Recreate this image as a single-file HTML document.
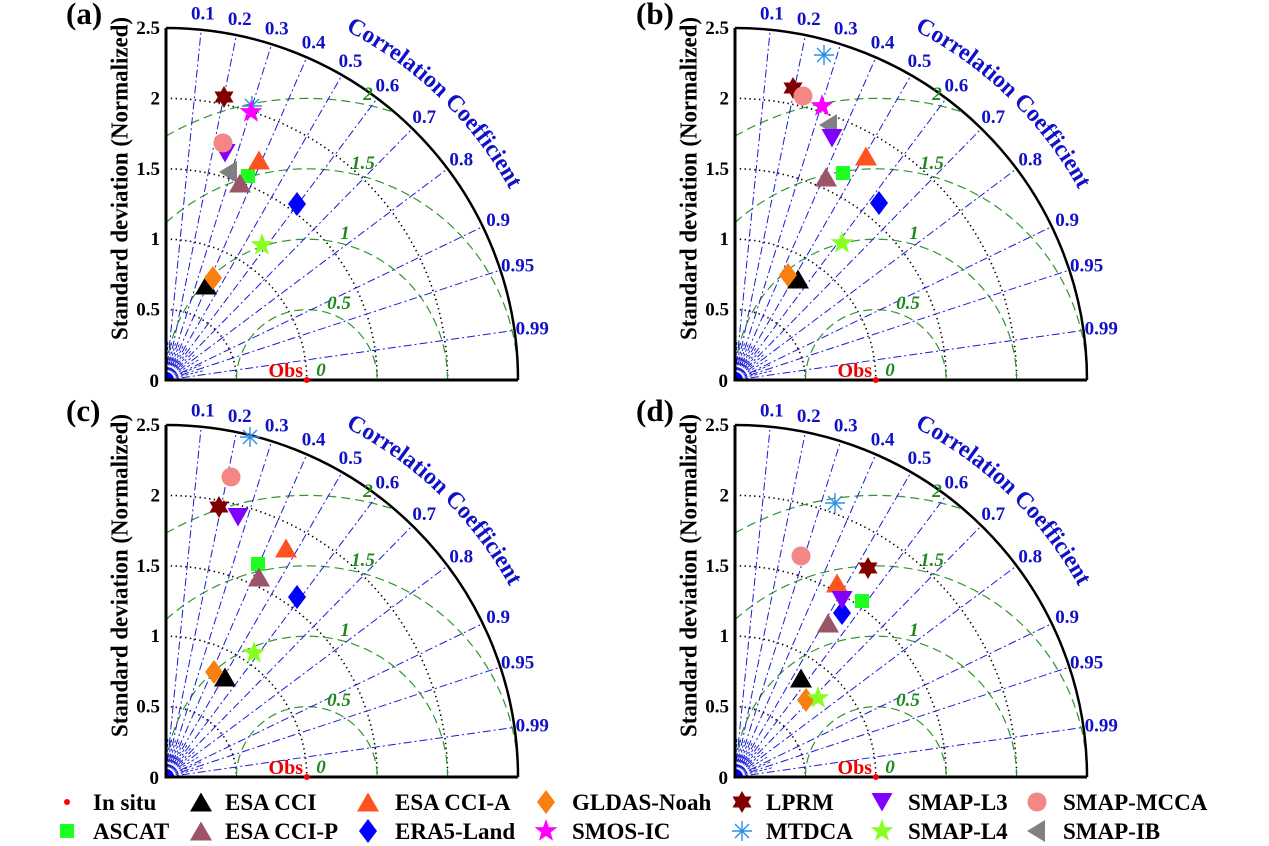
<!DOCTYPE html>
<html>
<head>
<meta charset="utf-8">
<style>
html,body{margin:0;padding:0;background:#fff;}
svg{display:block;}
text{font-family:"Liberation Serif","Times New Roman",serif;font-weight:bold;}
</style>
</head>
<body>
<svg width="1269" height="846" viewBox="0 0 1269 846" xmlns="http://www.w3.org/2000/svg">
<defs>
  <path id="ccArc" d="M179.5,-349.6 A393 393 0 0 1 369.3,-134.4" fill="none"/>
  <g id="grid">
    <g fill="none" stroke="#000" stroke-width="1.6" stroke-dasharray="1.4 3.4">
      <path d="M0,-70.4 A70.4 70.4 0 0 1 70.4,0"/>
      <path d="M0,-140.8 A140.8 140.8 0 0 1 140.8,0"/>
      <path d="M0,-211.2 A211.2 211.2 0 0 1 211.2,0"/>
      <path d="M0,-281.6 A281.6 281.6 0 0 1 281.6,0"/>
    </g>
    <g fill="none" stroke="#2f962f" stroke-width="1.2" stroke-dasharray="9 5">
      <path d="M70.4,0 A70.4 70.4 0 0 1 211.2,0"/>
      <path d="M0,0 A140.8 140.8 0 0 1 281.6,0"/>
      <path d="M0,-157.4 A211.2 211.2 0 0 1 352,0"/>
      <path d="M0,-243.9 A281.6 281.6 0 0 1 228.8,-267.5"/>
    </g>
    <g stroke="#1a1ad6" stroke-width="1" stroke-dasharray="8 3 2 3" fill="none">
      <line x1="0" y1="0" x2="35.2" y2="-350.24"/>
      <line x1="0" y1="0" x2="70.4" y2="-344.89"/>
      <line x1="0" y1="0" x2="105.6" y2="-335.79"/>
      <line x1="0" y1="0" x2="140.8" y2="-322.61"/>
      <line x1="0" y1="0" x2="176" y2="-304.84"/>
      <line x1="0" y1="0" x2="211.2" y2="-281.6"/>
      <line x1="0" y1="0" x2="246.4" y2="-251.38"/>
      <line x1="0" y1="0" x2="281.6" y2="-211.2"/>
      <line x1="0" y1="0" x2="316.8" y2="-153.43"/>
      <line x1="0" y1="0" x2="334.4" y2="-109.91"/>
      <line x1="0" y1="0" x2="348.48" y2="-49.66"/>
    </g>
    <g stroke="#1a1ad6" stroke-width="0.9" stroke-dasharray="3 2" fill="none">
      <line x1="0" y1="0" x2="2" y2="-40"/>
      <line x1="0" y1="0" x2="6" y2="-39.5"/>
      <line x1="0" y1="0" x2="10" y2="-38.7"/>
      <line x1="0" y1="0" x2="14" y2="-37.5"/>
      <line x1="0" y1="0" x2="18" y2="-35.7"/>
      <line x1="0" y1="0" x2="22" y2="-33.4"/>
      <line x1="0" y1="0" x2="26" y2="-30.4"/>
      <line x1="0" y1="0" x2="30" y2="-26.5"/>
      <line x1="0" y1="0" x2="34" y2="-21.1"/>
      <line x1="0" y1="0" x2="36.8" y2="-15.7"/>
      <line x1="0" y1="0" x2="38.8" y2="-9.7"/>
    </g>
    <path d="M0,0 L0,-8 A8 8 0 0 1 8,0 Z" fill="#0000ff"/>
    <path d="M0,-352 A352 352 0 0 1 352,0" fill="none" stroke="#000" stroke-width="2.5"/>
    <path d="M0,-352 L0,0 L352,0" fill="none" stroke="#000" stroke-width="3"/>
    <circle cx="140.8" cy="0" r="3" fill="#ff0000"/>
  </g>
  <path id="mTriU" d="M0,-9.5 L11,9.5 L-11,9.5Z"/>
  <path id="mTriD" d="M-10.5,-9 L10.5,-9 L0,9.5Z"/>
  <path id="mTriL" d="M-9,0 L9,-11 L9,11Z"/>
  <path id="mDia" d="M0,-12 L9,0 L0,12 L-9,0Z"/>
  <rect id="mSq" x="-7" y="-7" width="14" height="14"/>
  <circle id="mCir" cx="0" cy="0" r="9.5"/>
  <path id="mPent" d="M0,-12 L2.85,-3.92 L11.41,-3.71 L4.61,1.5 L7.05,9.71 L0,4.85 L-7.05,9.71 L-4.61,1.5 L-11.41,-3.71 L-2.85,-3.92Z"/>
  <path id="mHex" d="M0,-11 L3.18,-5.5 L9.53,-5.5 L6.35,0 L9.53,5.5 L3.18,5.5 L0,11 L-3.18,5.5 L-9.53,5.5 L-6.35,0 L-9.53,-5.5 L-3.18,-5.5Z"/>
  <path id="mAst" d="M-10,0 L10,0 M0,-10 L0,10 M-7,-7 L7,7 M-7,7 L7,-7" fill="none" stroke="#2b8fe6" stroke-width="1.4"/>
</defs>

<!-- ============ PANEL A ============ -->
<g transform="translate(166,380)">
  <use href="#grid"/>
  <text x="-100" y="-356" font-size="31">(a)</text>
  <g font-size="19" text-anchor="end" fill="#000">
    <text x="-6" y="-346">2.5</text>
    <text x="-6" y="-275.6">2</text>
    <text x="-6" y="-205.2">1.5</text>
    <text x="-6" y="-134.8">1</text>
    <text x="-6" y="-64.4">0.5</text>
    <text x="-7" y="7">0</text>
  </g>
  <text transform="translate(-38.5,-201.5) rotate(-90)" text-anchor="middle" font-size="24" textLength="323" lengthAdjust="spacingAndGlyphs">Standard deviation (Normalized)</text>
  <g font-size="19" text-anchor="middle" fill="#1010c8">
    <text x="36.9" y="-360.5">0.1</text>
    <text x="73.8" y="-354.8">0.2</text>
    <text x="110.7" y="-345.3">0.3</text>
    <text x="147.6" y="-331.5">0.4</text>
    <text x="184.5" y="-312.9">0.5</text>
    <text x="221.4" y="-288.5">0.6</text>
    <text x="258.3" y="-256.8">0.7</text>
    <text x="295.2" y="-214.7">0.8</text>
    <text x="332.1" y="-154.1">0.9</text>
    <text x="351.6" y="-108.5">0.95</text>
    <text x="366.3" y="-45.4">0.99</text>
  </g>
  <text font-size="24" fill="#1010c8"><textPath href="#ccArc" textLength="232" lengthAdjust="spacingAndGlyphs">Correlation Coefficient</textPath></text>
  <g font-size="19" font-style="italic" text-anchor="middle" fill="#1e8a1e">
    <text x="202" y="-280">2</text>
    <text x="197" y="-211">1.5</text>
    <text x="179" y="-141">1</text>
    <text x="173" y="-71">0.5</text>
    <text x="155" y="-4">0</text>
  </g>
  <text x="137" y="-3" font-size="20" text-anchor="end" fill="#ee0000">Obs</text>
</g>
<g>
  <use href="#mTriU" x="206" y="285" fill="#000"/>
  <use href="#mDia" x="213" y="278" fill="#f98010"/>
  <use href="#mSq" x="248" y="176" fill="#1fff1f"/>
  <use href="#mTriL" x="228" y="172" fill="#808080"/>
  <use href="#mTriU" x="240" y="183" fill="#9a5569"/>
  <use href="#mTriU" x="259" y="160" fill="#ff531f"/>
  <use href="#mDia" x="297" y="204" fill="#0000ff"/>
  <use href="#mPent" x="262" y="245" fill="#88ff22"/>
  <use href="#mTriD" x="225" y="153" fill="#8000ff"/>
  <use href="#mCir" x="223" y="143" fill="#f48686"/>
  <use href="#mAst" x="252" y="106"/>
  <use href="#mPent" x="251" y="112" fill="#ff00ff"/>
  <use href="#mHex" x="224" y="97" fill="#800000"/>
</g>

<!-- ============ PANEL B ============ -->
<g transform="translate(735,380)">
  <use href="#grid"/>
  <text x="-99" y="-356" font-size="31">(b)</text>
  <g font-size="19" text-anchor="end" fill="#000">
    <text x="-6" y="-346">2.5</text>
    <text x="-6" y="-275.6">2</text>
    <text x="-6" y="-205.2">1.5</text>
    <text x="-6" y="-134.8">1</text>
    <text x="-6" y="-64.4">0.5</text>
    <text x="-7" y="7">0</text>
  </g>
  <text transform="translate(-38.5,-201.5) rotate(-90)" text-anchor="middle" font-size="24" textLength="323" lengthAdjust="spacingAndGlyphs">Standard deviation (Normalized)</text>
  <g font-size="19" text-anchor="middle" fill="#1010c8">
    <text x="36.9" y="-360.5">0.1</text>
    <text x="73.8" y="-354.8">0.2</text>
    <text x="110.7" y="-345.3">0.3</text>
    <text x="147.6" y="-331.5">0.4</text>
    <text x="184.5" y="-312.9">0.5</text>
    <text x="221.4" y="-288.5">0.6</text>
    <text x="258.3" y="-256.8">0.7</text>
    <text x="295.2" y="-214.7">0.8</text>
    <text x="332.1" y="-154.1">0.9</text>
    <text x="351.6" y="-108.5">0.95</text>
    <text x="366.3" y="-45.4">0.99</text>
  </g>
  <text font-size="24" fill="#1010c8"><textPath href="#ccArc" textLength="232" lengthAdjust="spacingAndGlyphs">Correlation Coefficient</textPath></text>
  <g font-size="19" font-style="italic" text-anchor="middle" fill="#1e8a1e">
    <text x="202" y="-280">2</text>
    <text x="197" y="-211">1.5</text>
    <text x="179" y="-141">1</text>
    <text x="173" y="-71">0.5</text>
    <text x="155" y="-4">0</text>
  </g>
  <text x="137" y="-3" font-size="20" text-anchor="end" fill="#ee0000">Obs</text>
</g>
<g>
  <use href="#mTriU" x="798" y="279" fill="#000"/>
  <use href="#mDia" x="788" y="275" fill="#f98010"/>
  <use href="#mSq" x="843" y="173" fill="#1fff1f"/>
  <use href="#mTriL" x="828" y="125" fill="#808080"/>
  <use href="#mTriU" x="826" y="177" fill="#9a5569"/>
  <use href="#mTriU" x="866" y="156" fill="#ff531f"/>
  <use href="#mDia" x="879" y="203" fill="#0000ff"/>
  <use href="#mPent" x="842" y="243" fill="#88ff22"/>
  <use href="#mTriD" x="832" y="138" fill="#8000ff"/>
  <use href="#mAst" x="824" y="55"/>
  <use href="#mPent" x="822" y="106" fill="#ff00ff"/>
  <use href="#mHex" x="793" y="88" fill="#800000"/>
  <use href="#mCir" x="803" y="96" fill="#f48686"/>
</g>

<!-- ============ PANEL C ============ -->
<g transform="translate(166,777)">
  <use href="#grid"/>
  <text x="-100" y="-356" font-size="31">(c)</text>
  <g font-size="19" text-anchor="end" fill="#000">
    <text x="-6" y="-346">2.5</text>
    <text x="-6" y="-275.6">2</text>
    <text x="-6" y="-205.2">1.5</text>
    <text x="-6" y="-134.8">1</text>
    <text x="-6" y="-64.4">0.5</text>
    <text x="-7" y="7">0</text>
  </g>
  <text transform="translate(-38.5,-201.5) rotate(-90)" text-anchor="middle" font-size="24" textLength="323" lengthAdjust="spacingAndGlyphs">Standard deviation (Normalized)</text>
  <g font-size="19" text-anchor="middle" fill="#1010c8">
    <text x="36.9" y="-360.5">0.1</text>
    <text x="73.8" y="-354.8">0.2</text>
    <text x="110.7" y="-345.3">0.3</text>
    <text x="147.6" y="-331.5">0.4</text>
    <text x="184.5" y="-312.9">0.5</text>
    <text x="221.4" y="-288.5">0.6</text>
    <text x="258.3" y="-256.8">0.7</text>
    <text x="295.2" y="-214.7">0.8</text>
    <text x="332.1" y="-154.1">0.9</text>
    <text x="351.6" y="-108.5">0.95</text>
    <text x="366.3" y="-45.4">0.99</text>
  </g>
  <text font-size="24" fill="#1010c8"><textPath href="#ccArc" textLength="232" lengthAdjust="spacingAndGlyphs">Correlation Coefficient</textPath></text>
  <g font-size="19" font-style="italic" text-anchor="middle" fill="#1e8a1e">
    <text x="202" y="-280">2</text>
    <text x="197" y="-211">1.5</text>
    <text x="179" y="-141">1</text>
    <text x="173" y="-71">0.5</text>
    <text x="155" y="-4">0</text>
  </g>
  <text x="137" y="-3" font-size="20" text-anchor="end" fill="#ee0000">Obs</text>
</g>
<g>
  <use href="#mTriU" x="225" y="677" fill="#000"/>
  <use href="#mDia" x="214" y="672" fill="#f98010"/>
  <use href="#mSq" x="258" y="564" fill="#1fff1f"/>
  <use href="#mTriU" x="259" y="577" fill="#9a5569"/>
  <use href="#mTriU" x="286" y="548" fill="#ff531f"/>
  <use href="#mDia" x="297" y="597" fill="#0000ff"/>
  <use href="#mPent" x="254" y="653" fill="#88ff22"/>
  <use href="#mTriD" x="238" y="517" fill="#8000ff"/>
  <use href="#mCir" x="231" y="477" fill="#f48686"/>
  <use href="#mAst" x="250" y="437"/>
  <use href="#mHex" x="219" y="507" fill="#800000"/>
</g>

<!-- ============ PANEL D ============ -->
<g transform="translate(735,777)">
  <use href="#grid"/>
  <text x="-99" y="-356" font-size="31">(d)</text>
  <g font-size="19" text-anchor="end" fill="#000">
    <text x="-6" y="-346">2.5</text>
    <text x="-6" y="-275.6">2</text>
    <text x="-6" y="-205.2">1.5</text>
    <text x="-6" y="-134.8">1</text>
    <text x="-6" y="-64.4">0.5</text>
    <text x="-7" y="7">0</text>
  </g>
  <text transform="translate(-38.5,-201.5) rotate(-90)" text-anchor="middle" font-size="24" textLength="323" lengthAdjust="spacingAndGlyphs">Standard deviation (Normalized)</text>
  <g font-size="19" text-anchor="middle" fill="#1010c8">
    <text x="36.9" y="-360.5">0.1</text>
    <text x="73.8" y="-354.8">0.2</text>
    <text x="110.7" y="-345.3">0.3</text>
    <text x="147.6" y="-331.5">0.4</text>
    <text x="184.5" y="-312.9">0.5</text>
    <text x="221.4" y="-288.5">0.6</text>
    <text x="258.3" y="-256.8">0.7</text>
    <text x="295.2" y="-214.7">0.8</text>
    <text x="332.1" y="-154.1">0.9</text>
    <text x="351.6" y="-108.5">0.95</text>
    <text x="366.3" y="-45.4">0.99</text>
  </g>
  <text font-size="24" fill="#1010c8"><textPath href="#ccArc" textLength="232" lengthAdjust="spacingAndGlyphs">Correlation Coefficient</textPath></text>
  <g font-size="19" font-style="italic" text-anchor="middle" fill="#1e8a1e">
    <text x="202" y="-280">2</text>
    <text x="197" y="-211">1.5</text>
    <text x="179" y="-141">1</text>
    <text x="173" y="-71">0.5</text>
    <text x="155" y="-4">0</text>
  </g>
  <text x="137" y="-3" font-size="20" text-anchor="end" fill="#ee0000">Obs</text>
</g>
<g>
  <use href="#mTriU" x="801" y="678" fill="#000"/>
  <use href="#mDia" x="806" y="700" fill="#f98010"/>
  <use href="#mPent" x="818" y="698" fill="#88ff22"/>
  <use href="#mSq" x="862" y="601" fill="#1fff1f"/>
  <use href="#mTriU" x="828" y="623" fill="#9a5569"/>
  <use href="#mDia" x="842" y="613" fill="#0000ff"/>
  <use href="#mTriU" x="837" y="583" fill="#ff531f"/>
  <use href="#mTriD" x="842" y="600" fill="#8000ff"/>
  <use href="#mCir" x="801" y="556" fill="#f48686"/>
  <use href="#mAst" x="835" y="503"/>
  <use href="#mHex" x="868" y="568" fill="#800000"/>
</g>

<!-- ============ LEGEND ============ -->
<g>
  <circle cx="67" cy="802" r="3" fill="#ff0000"/>
  <use href="#mTriU" x="201" y="802" fill="#000"/>
  <use href="#mTriU" x="368" y="802" fill="#ff531f"/>
  <use href="#mDia" x="546" y="802" fill="#f98010"/>
  <use href="#mHex" x="742" y="802" fill="#800000"/>
  <use href="#mTriD" x="882" y="802" fill="#8000ff"/>
  <use href="#mCir" x="1037" y="802" fill="#f48686"/>

  <use href="#mSq" x="67" y="831" fill="#1fff1f"/>
  <use href="#mTriU" x="201" y="831" fill="#9a5569"/>
  <use href="#mDia" x="368" y="831" fill="#0000ff"/>
  <use href="#mPent" x="546" y="831" fill="#ff00ff"/>
  <use href="#mAst" x="742" y="831"/>
  <use href="#mPent" x="882" y="831" fill="#88ff22"/>
  <use href="#mTriL" x="1036" y="831" fill="#808080"/>
</g>
<g font-size="23" fill="#000">
  <text x="93" y="810">In situ</text>
  <text x="225" y="810">ESA CCI</text>
  <text x="395" y="810">ESA CCI-A</text>
  <text x="572" y="810">GLDAS-Noah</text>
  <text x="766" y="810">LPRM</text>
  <text x="908" y="810">SMAP-L3</text>
  <text x="1063" y="810">SMAP-MCCA</text>

  <text x="93" y="839">ASCAT</text>
  <text x="225" y="839">ESA CCI-P</text>
  <text x="395" y="839">ERA5-Land</text>
  <text x="572" y="839">SMOS-IC</text>
  <text x="766" y="839">MTDCA</text>
  <text x="908" y="839">SMAP-L4</text>
  <text x="1063" y="839">SMAP-IB</text>
</g>
</svg>
</body>
</html>
